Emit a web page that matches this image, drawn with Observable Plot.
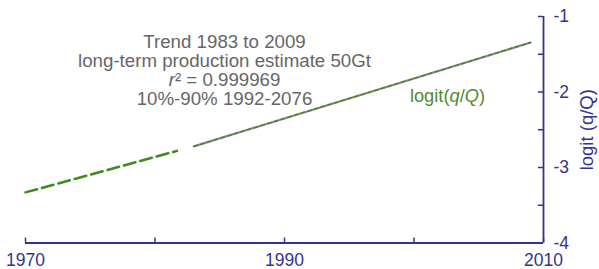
<!DOCTYPE html>
<html>
<head>
<meta charset="utf-8">
<script src="https://cdn.jsdelivr.net/npm/d3@7"></script>
<script src="https://cdn.jsdelivr.net/npm/@observablehq/plot@0.6"></script>
<style>
  html, body { margin: 0; padding: 0; background: #fff; }
</style>
</head>
<body>
<div id="chart"></div>
<script>
// ---- data ----
const earlyYears = [1970, 1981.7];
const earlyValues = [-3.33, -2.78];
const trendYears = [1983, 2009];
const trendValues = [-2.72, -1.345];
const xTicks = [1970, 1980, 1990, 2000, 2010];
const xTickLabels = [1970, 1990, 2010];
const yTicks = [-1, -1.5, -2, -2.5, -3, -3.5, -4];
const yTickLabels = [-1, -2, -3, -4];
const annotationLines = [
  "Trend 1983 to 2009",
  "long-term production estimate 50Gt",
  "r\u00B2 = 0.999969",
  "10%-90% 1992-2076"
];
const seriesLabel = "logit(q/Q)";
const yTitle = "logit (q/Q)";

const early = earlyYears.map((x, i) => ({x, y: earlyValues[i]}));
const trend = trendYears.map((x, i) => ({x, y: trendValues[i]}));

const blue = "#34348f";
const green = "#3f8a1e";
const greenText = "#4f8c2c";
const gray = "#666666";

const chart = Plot.plot({
  width: 599,
  height: 269,
  marginLeft: 25,
  marginRight: 56,
  marginTop: 16,
  marginBottom: 26.5,
  x: {domain: [1970, 2010]},
  y: {domain: [-4, -1]},
  style: {fontFamily: "'Liberation Sans', Arial, sans-serif", background: "#fff"},
  marks: [
    Plot.axisX(xTickLabels, {anchor: "bottom", tickSize: 0, tickPadding: 11, fontSize: 17.5, color: blue, tickFormat: d => String(d), label: null}),
    Plot.axisY(yTickLabels, {anchor: "right", tickSize: 0, tickPadding: 10, fontSize: 17.5, color: blue, tickFormat: d => String(d), label: null}),
    Plot.ruleX(xTicks, {x: d => d, y1: -4, y2: -4, insetTop: -5, stroke: blue, strokeWidth: 1.5}),
    Plot.ruleY(yTicks, {y: d => d, x1: 2010, x2: 2010, insetLeft: -5, stroke: blue, strokeWidth: 1.5}),
    Plot.ruleY([-4], {x1: 1970, x2: 2010, stroke: blue, strokeWidth: 1.8}),
    Plot.ruleX([2010], {y1: -4, y2: -1, stroke: blue, strokeWidth: 1.8}),
    Plot.line(early, {x: "x", y: "y", stroke: green, strokeWidth: 2.5, strokeDasharray: "12,5"}),
    Plot.line(trend, {x: "x", y: "y", stroke: "#8a8a8a", strokeWidth: 2.2}),
    Plot.line(trend, {x: "x", y: "y", stroke: green, strokeWidth: 1.3, strokeDasharray: "4,3"}),
    Plot.text([annotationLines.join("\n")], {frameAnchor: "top-left", dx: 199, dy: 18, textAnchor: "middle", lineAnchor: "top", lineHeight: 19 / 18.7, fontSize: 18.7, fill: gray, className: "annot"}),
    Plot.text([seriesLabel], {frameAnchor: "top-left", dx: 422, dy: 72, textAnchor: "middle", lineAnchor: "top", fontSize: 18.3, fill: greenText, className: "serieslabel"}),
    Plot.text([yTitle], {frameAnchor: "right", dx: 44, rotate: -90, textAnchor: "middle", lineAnchor: "middle", fontSize: 18.5, fill: blue})
  ]
});

// italic styling for the math symbols
const svg = d3.select(chart);
svg.selectAll("tspan").each(function() {
  const t = d3.select(this);
  if (t.text() === annotationLines[2]) {
    t.text(null);
    t.append("tspan").attr("font-style", "italic").text("r");
    t.append("tspan").text(annotationLines[2].slice(1));
  }
});
svg.selectAll("text").each(function() {
  const t = d3.select(this);
  if (t.selectAll("tspan").empty() && t.text() === seriesLabel) {
    t.text(null);
    t.append("tspan").text("logit(");
    t.append("tspan").attr("font-style", "italic").text("q");
    t.append("tspan").text("/");
    t.append("tspan").attr("font-style", "italic").text("Q");
    t.append("tspan").text(")");
  }
});

document.getElementById("chart").appendChild(chart);
</script>
</body>
</html>
